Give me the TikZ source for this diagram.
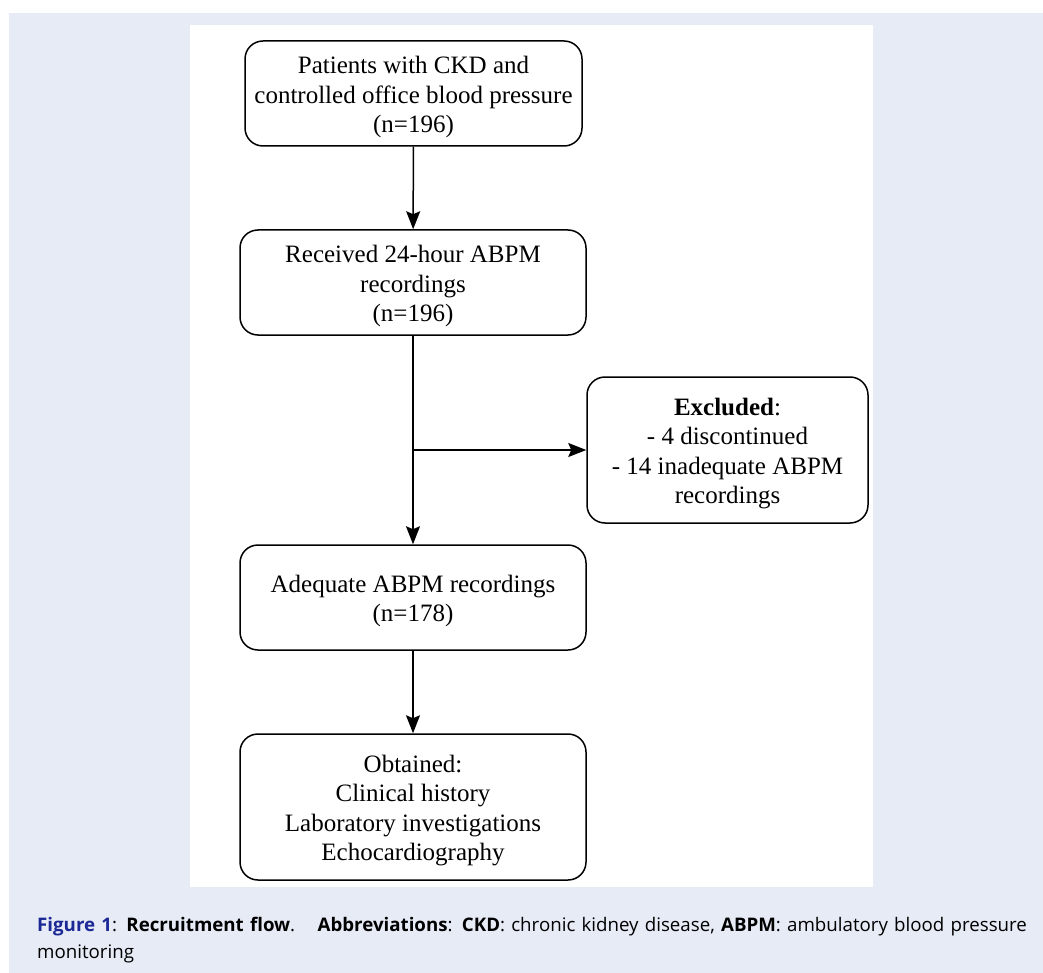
\documentclass[tikz,border=0pt]{standalone}
\usepackage{fontspec}
\setmainfont{Liberation Serif}
\newfontfamily\capfont{Open Sans}
\usetikzlibrary{arrows.meta}
\definecolor{bgblue}{HTML}{E7EBF6}
\definecolor{figblue}{HTML}{1C2896}
\newcommand\tstrut{\rule{0pt}{24.5pt}}
\begin{document}
\begin{tikzpicture}[x=1pt,y=-1pt,
  box/.style={draw=black, line width=1.5pt, rounded corners=18pt, fill=white, align=center,
    font=\fontsize{25}{29.5}\selectfont, inner sep=0pt},
  conn/.style={line width=1.5pt, -{Stealth[length=18pt,width=14pt,inset=3pt]}}]
\useasboundingbox (0,0) rectangle (1043,973);
\fill[white] (0,0) rectangle (1043,973);
\fill[bgblue] (9,13) rectangle (1043,973);
\fill[white] (190,25) rectangle (873,887);
\node[box, minimum width=337pt, minimum height=105pt] (p) at (413.5,93.5)
  {\tstrut Patients with CKD and\\controlled office blood pressure\\(n=196)};
\node[box, minimum width=346pt, minimum height=105pt] (r) at (413,282.5)
  {\tstrut Received 24-hour ABPM\\recordings\\(n=196)};
\node[box, minimum width=281pt, minimum height=146pt] (e) at (727.5,450)
  {\tstrut\textbf{Excluded}:\\- 4 discontinued\\- 14 inadequate ABPM\\recordings};
\node[box, minimum width=346pt, minimum height=105pt] (a) at (413,597.5)
  {\tstrut Adequate ABPM recordings\\(n=178)};
\node[box, minimum width=346pt, minimum height=146pt] (o) at (413,807)
  {\tstrut Obtained:\\Clinical history\\Laboratory investigations\\Echocardiography};
\coordinate (j) at (413,450);
\draw[conn] (p) -- (r);
\draw[conn] (r) -- (a);
\draw[conn] (j) -- (e.west);
\draw[conn] (a) -- (o);
\node[anchor=north west, inner sep=0pt, align=left, text width=1000pt,
  font=\capfont\fontsize{18.7}{26.5}\selectfont] (cap) at (37,917)
  {{\color{figblue}\textbf{Figure 1}}: \textbf{Recruitment flow}.\hspace{0.7em} \textbf{Abbreviations}: \textbf{CKD}: chronic kidney disease, \textbf{ABPM}: ambulatory blood pressure\\monitoring};
\end{tikzpicture}
\end{document}
